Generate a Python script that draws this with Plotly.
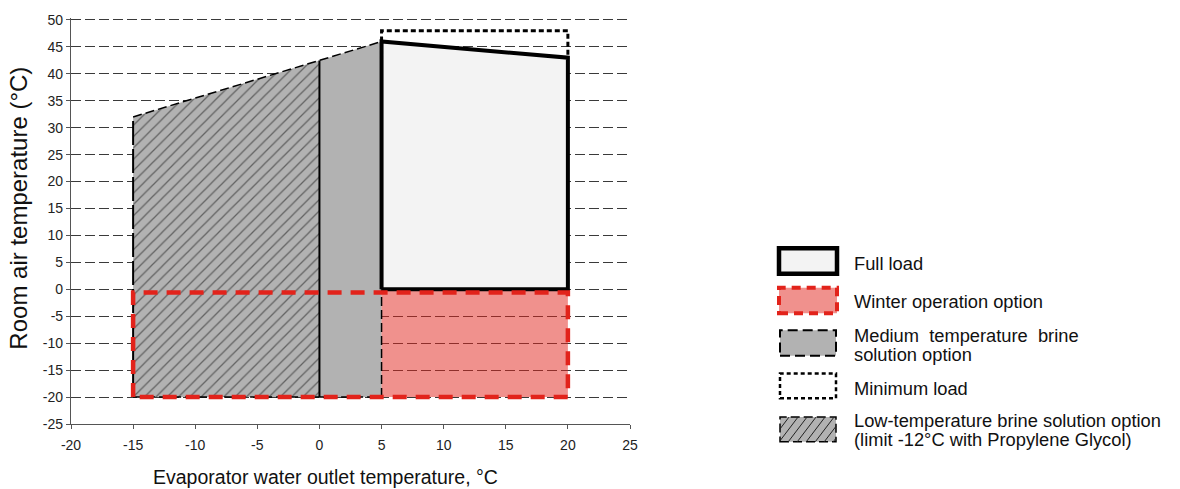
import plotly.graph_objects as go

# ---------------- data ----------------
x_ticks = [-20, -15, -10, -5, 0, 5, 10, 15, 20, 25]
y_ticks = [-25, -20, -15, -10, -5, 0, 5, 10, 15, 20, 25, 30, 35, 40, 45, 50]

# Low-temperature brine solution option (hatched)
low_x = [-15, -15, 0, 0, -15]
low_y = [-20, 32, 42.5, -20, -20]
# Medium temperature brine solution option
med_x = [0, 0, 5, 5, 0]
med_y = [-20, 42.5, 46, -20, -20]
# Full load envelope
full_x = [5, 5, 20, 20, 5]
full_y = [0, 46, 43, 0, 0]
# Minimum load envelope (upper limit)
min_x = [5, 5, 20, 20]
min_y = [46, 48, 48, 43]
# Winter operation option
winter_fill_x = [5, 5, 20, 20, 5]
winter_fill_y = [-20, 0, 0, -20, -20]
winter_x = [-15, -15, 20, 20, -15]
winter_y = [-20, -0.6, -0.6, -20, -20]
# brine boundary lines
brine_top_x = [-15, 5]
brine_top_y = [32, 46]

x_title = "Evaporator water outlet temperature, °C"
y_title = "Room air temperature (°C)"
legend_lines = [
    ["Full load"],
    ["Winter operation option"],
    ["Medium&nbsp; temperature&nbsp; brine", "solution option"],
    ["Minimum load"],
    ["Low-temperature brine solution option", "(limit -12°C with Propylene Glycol)"],
]

GREY = "#b2b2b2"
RED = "#e2231b"
RED_FILL = "rgba(226,35,27,0.5)"
FONT = "Liberation Sans, Arial, sans-serif"

fig = go.Figure()

def line(x, y, color="black", width=1.5, dash="solid"):
    fig.add_trace(go.Scatter(x=x, y=y, mode="lines",
                             line=dict(color=color, width=width, dash=dash),
                             hoverinfo="skip", showlegend=False))

# fills
fig.add_trace(go.Scatter(x=low_x, y=low_y, mode="lines", fill="toself",
                         fillcolor=GREY,
                         fillpattern=dict(shape="/", bgcolor=GREY, fgcolor="#111111",
                                          size=8, solidity=0.16),
                         line=dict(width=0), hoverinfo="skip", showlegend=False))
fig.add_trace(go.Scatter(x=med_x, y=med_y, mode="lines", fill="toself",
                         fillcolor=GREY, line=dict(width=0),
                         hoverinfo="skip", showlegend=False))
fig.add_trace(go.Scatter(x=winter_fill_x, y=winter_fill_y, mode="lines", fill="toself",
                         fillcolor=RED_FILL, line=dict(width=0),
                         hoverinfo="skip", showlegend=False))

# brine boundaries
line([-15, -15], [-20, 32], width=2, dash="24px,4px")
line([0, 0], [-20, 42.5], width=2)
line(brine_top_x, brine_top_y, width=1.5, dash="9px,4px")
line([5, 5], [-20, 0], width=1.5, dash="9px,4px")
line([-15, 5], [-20, -20], width=1.5, dash="9px,4px")

# full load
fig.add_trace(go.Scatter(x=full_x, y=full_y, mode="lines", fill="toself",
                         fillcolor="#f3f3f3", line=dict(color="black", width=4),
                         hoverinfo="skip", showlegend=False))
# minimum load
line(min_x, min_y, width=3, dash="5px,3px")
# winter outline
line(winter_x, winter_y, color=RED, width=4.5, dash="14px,9px")

# ---------------- layout geometry ----------------
L, R_, T, B = 71, 550, 13, 65
PW, PH = 1180 - L - R_, 489 - T - B
Y_TOP = 50 + 2 * 75 / 409.0  # keeps the 50 gridline 2px inside the plot area

def px(xp):
    return (xp - L) / PW

def py(yp):
    return (489 - B - yp) / PH

# ---------------- legend (drawn) ----------------
shapes = []
boxes = [
    (779, 246, 837, 272),
    (779, 286, 837, 312),
    (780, 329, 836, 355),
    (780, 373, 836, 398),
    (780, 417, 836, 442),
]
text_y = [[262], [300], [334, 354], [388], [420, 440]]

def rect(b, fill, color, width, dash):
    x0, y0, x1, y1 = b
    shapes.append(dict(type="rect", xref="paper", yref="paper",
                       x0=px(x0), x1=px(x1), y0=py(y1), y1=py(y0),
                       fillcolor=fill, line=dict(color=color, width=width, dash=dash),
                       layer="above"))

rect(boxes[0], "#f3f3f3", "black", 4.5, "solid")
rect(boxes[1], "rgba(226,35,27,0.5)", RED, 4, "9px,6px")
rect(boxes[2], GREY, "black", 2, "10px,5px")
rect(boxes[3], "white", "black", 2.5, "4px,3px")
rect(boxes[4], GREY, "black", 1.5, "9px,4px")

# hatch inside legend box 5
x0, y0, x1, y1 = boxes[4]
h = y1 - y0
k = 0.75
segs = []
a = x0 - h * k
while a < x1:
    sx, sy = a, y1
    ex, ey = a + h * k, y0
    if sx < x0:
        sy = y1 - (x0 - sx) / k
        sx = x0
    if ex > x1:
        ey = y1 - (x1 - a) / k
        ex = x1
    if ex > sx:
        segs.append(f"M{px(sx)},{py(sy)} L{px(ex)},{py(ey)}")
    a += 9
shapes.append(dict(type="path", xref="paper", yref="paper", path=" ".join(segs),
                   line=dict(color="#222222", width=1), layer="above"))

annotations = []
for lines_, ys in zip(legend_lines, text_y):
    for txt, ty in zip(lines_, ys):
        annotations.append(dict(xref="paper", yref="paper", x=px(852), y=py(ty),
                                text=txt, showarrow=False, xanchor="left", yanchor="middle",
                                align="left",
                                font=dict(family=FONT, size=18.3, color="#111111")))

# axis titles
annotations.append(dict(xref="paper", yref="paper", x=px(325), y=py(478),
                        text=x_title, showarrow=False, xanchor="center", yanchor="middle",
                        font=dict(family=FONT, size=19.5, color="#111111")))
annotations.append(dict(xref="paper", yref="paper", x=px(19), y=py(206),
                        text=y_title, showarrow=False, xanchor="center", yanchor="middle",
                        textangle=-90,
                        font=dict(family=FONT, size=24, color="#111111")))

fig.update_layout(
    width=1180, height=489,
    margin=dict(l=L, r=R_, t=T, b=B, pad=0),
    plot_bgcolor="white", paper_bgcolor="white",
    font=dict(family=FONT, color="#222222"),
    shapes=shapes, annotations=annotations,
    showlegend=False,
    xaxis=dict(range=[-20, 25], tickvals=x_ticks, ticktext=[str(v) for v in x_ticks],
               showgrid=False, zeroline=False, showline=True, linecolor="#555555",
               linewidth=1.2, ticks="outside", ticklen=4, tickcolor="#555555",
               ticklabelstandoff=4,
               tickfont=dict(size=14, family=FONT, color="#222222")),
    yaxis=dict(range=[-25, Y_TOP], tickvals=y_ticks, ticktext=[str(v) for v in y_ticks],
               showgrid=True, gridcolor="#3a3a3a", gridwidth=1, griddash="10px,4px",
               zeroline=False, showline=True, linecolor="#555555", linewidth=1.2,
               ticks="outside", ticklen=4, tickcolor="#555555",
               tickfont=dict(size=14, family=FONT, color="#222222")),
)

fig.write_html("out.html")
